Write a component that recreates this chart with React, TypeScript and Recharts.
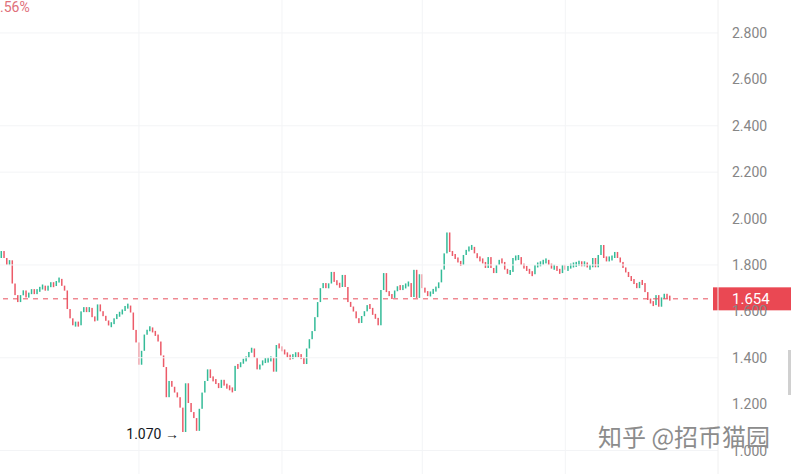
import { BarChart, Bar, XAxis, YAxis, ReferenceLine, ReferenceDot } from 'recharts';

// closing prices, one per candle (oldest first); open of each candle = previous close
const firstOpen = 1.83;
const closes = [
  1.86, 1.83, 1.80, 1.82, 1.72, 1.67, 1.64, 1.67, 1.69, 1.66, 1.68, 1.69,
  1.68, 1.69, 1.70, 1.71, 1.69, 1.71, 1.72, 1.71, 1.73, 1.74, 1.71, 1.69,
  1.61, 1.57, 1.54, 1.55, 1.54, 1.60, 1.615, 1.60, 1.615, 1.575, 1.56, 1.63,
  1.60, 1.58, 1.56, 1.54, 1.545, 1.57, 1.585, 1.59, 1.605, 1.62, 1.625, 1.595,
  1.52,
  1.466, 1.37, 1.43, 1.50, 1.52, 1.53, 1.51, 1.50, 1.47, 1.41, 1.36, 1.23,
  1.30, 1.275, 1.25, 1.23, 1.185, 1.08, 1.29, 1.205, 1.166, 1.14, 1.085, 1.18,
  1.25, 1.30, 1.35, 1.313, 1.305, 1.29, 1.27, 1.305, 1.28, 1.275, 1.266, 1.257,
  1.365, 1.36, 1.38, 1.39, 1.40, 1.425, 1.44, 1.40, 1.35, 1.37, 1.386, 1.39,
  1.39, 1.40, 1.34, 1.455, 1.447, 1.43, 1.42, 1.405, 1.40, 1.41, 1.416, 1.41,
  1.40, 1.373, 1.44, 1.48, 1.515, 1.575, 1.64,
  1.70, 1.722, 1.70, 1.72, 1.77, 1.727, 1.72, 1.705, 1.757, 1.705, 1.64, 1.62,
  1.60, 1.57, 1.55, 1.58, 1.60, 1.627, 1.615, 1.585, 1.572, 1.54, 1.692, 1.765,
  1.683, 1.67, 1.658, 1.69, 1.705, 1.70, 1.705, 1.714, 1.722, 1.662, 1.779, 1.658,
  1.76, 1.70, 1.683, 1.67, 1.68, 1.692, 1.70, 1.725, 1.78, 1.85, 1.94, 1.856,
  1.843, 1.83, 1.813, 1.80,
  1.843, 1.865, 1.873, 1.878, 1.85, 1.83, 1.822, 1.813, 1.787, 1.834, 1.787, 1.765,
  1.80, 1.822, 1.813, 1.78, 1.765, 1.77, 1.83, 1.83, 1.834, 1.80, 1.79, 1.78,
  1.765, 1.76, 1.80, 1.80, 1.81, 1.813, 1.822, 1.80, 1.79, 1.79, 1.78, 1.765,
  1.80, 1.78, 1.79, 1.80, 1.80, 1.805, 1.81, 1.80, 1.81, 1.79, 1.79, 1.83,
  1.79, 1.843, 1.886, 1.83, 1.822, 1.83, 1.83, 1.856, 1.83, 1.813, 1.787, 1.77,
  1.748, 1.735, 1.722, 1.70, 1.727, 1.722, 1.683, 1.649, 1.64, 1.627, 1.67, 1.62,
  1.66, 1.67, 1.66, 1.654,
];

const totalSlots = 261; // candles + empty space on the right
const lastPrice = 1.654;
const lowPrice = 1.07;
const lowIndex = 66;
const priceTicks = [1.0, 1.2, 1.4, 1.6, 1.8, 2.0, 2.2, 2.4, 2.6, 2.8];
const gridPrices = [2.8, 2.4, 2.2, 1.8, 1.4, 1.0];
const gridSlots = [50, 102, 153, 205];
const yDomain = [0.899, 2.942];

const GREEN = '#34bb98';
const RED = '#ec5a68';

const data = Array.from({ length: totalSlots }, (_, i) => {
  if (i >= closes.length) return { i, open: null, close: null, range: null };
  const open = i === 0 ? firstOpen : closes[i - 1];
  const close = closes[i];
  return { i, open, close, range: [Math.min(open, close), Math.max(open, close)] };
});

function Candle(props: any) {
  const { x, y, width, height, payload } = props;
  if (!payload || payload.range == null) return null;
  const up = payload.close >= payload.open;
  const h = Math.max(height, 5);
  const mid = y + height / 2;
  return (
    <rect x={x + width / 2 - 0.75} y={mid - h / 2} width={1.5} height={h} fill={up ? GREEN : RED} />
  );
}

function PriceTag(props: any) {
  const { viewBox } = props;
  const x = viewBox.x + viewBox.width - 5;
  const y = viewBox.y;
  return (
    <g>
      <rect x={x} y={y - 11.5} width={80} height={23} fill="#ea4853" />
      <text x={x + 19} y={y + 5.5} fill="#fff" fontSize={15}>
        {lastPrice.toFixed(3)}
      </text>
    </g>
  );
}

function LowLabel(props: any) {
  const { viewBox } = props;
  const cx = viewBox.x + viewBox.width / 2;
  const cy = viewBox.y + viewBox.height / 2;
  return (
    <text x={cx - 4} y={cy + 5} textAnchor="end" fill="#131722" fontSize={14}>
      {lowPrice.toFixed(3) + ' →'}
    </text>
  );
}

export default function App() {
  return (
    <div
      style={{
        position: 'fixed',
        left: 0,
        top: 0,
        width: 791,
        height: 474,
        background: '#fff',
        fontFamily: 'Roboto, sans-serif',
        overflow: 'hidden',
      }}
    >
      <BarChart width={791} height={474} data={data} margin={{ top: 0, right: 0, bottom: 0, left: 0 }}>
        <XAxis dataKey="i" hide />
        <YAxis
          orientation="right"
          width={73}
          domain={yDomain}
          allowDataOverflow
          ticks={priceTicks}
          interval={0}
          tickFormatter={(v: number) => v.toFixed(3)}
          tick={{ fill: '#868686', fontSize: 14 }}
          tickLine={false}
          tickMargin={8}
          axisLine={{ stroke: '#f0f0f0' }}
        />
        {gridPrices.map((p) => (
          <ReferenceLine key={'h' + p} y={p} stroke="#f3f4f6" />
        ))}
        {gridSlots.map((s) => (
          <ReferenceLine key={'v' + s} x={s} stroke="#f3f4f6" />
        ))}
        <Bar dataKey={(d: any) => d.range} shape={<Candle />} isAnimationActive={false} />
        <ReferenceLine y={lastPrice} stroke="#e8505d" strokeDasharray="5 5" label={<PriceTag />} />
        <ReferenceDot x={lowIndex} y={lowPrice} r={0} stroke="none" label={<LowLabel />} />
      </BarChart>
      <div style={{ position: 'absolute', left: 0, top: -1, fontSize: 14, color: '#e0707a' }}>.56%</div>
      <div
        style={{
          position: 'absolute',
          left: 598,
          top: 421,
          fontSize: 24,
          color: '#8c8c8c',
          fontFamily: '"Noto Sans CJK SC", sans-serif',
          whiteSpace: 'nowrap',
          lineHeight: '30px',
        }}
      >
        知乎 @招币猫园
      </div>
      <div style={{ position: 'absolute', left: 788, top: 350, width: 3, height: 45, background: '#d0d0d0' }} />
    </div>
  );
}
